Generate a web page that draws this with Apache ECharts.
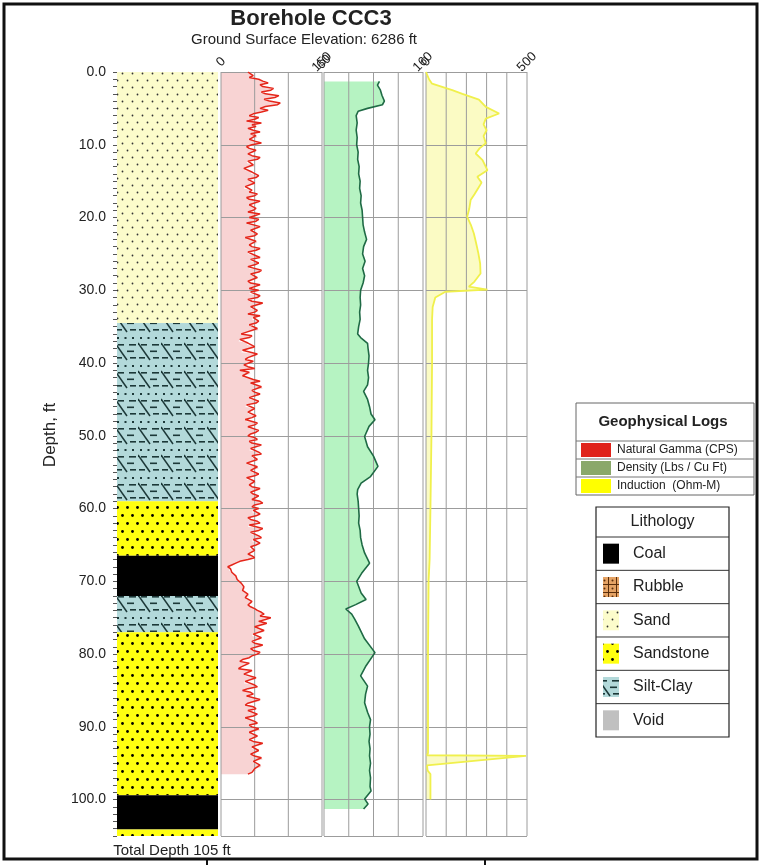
<!DOCTYPE html>
<html><head><meta charset="utf-8">
<script src="https://cdn.jsdelivr.net/npm/echarts@6/dist/echarts.min.js"></script>
<style>html,body{margin:0;padding:0;background:#fff}#c{width:762px;height:865px}</style>
</head><body><div id="c"></div>
<script>
// ---------------- data ----------------
const TITLE = 'Borehole CCC3';
const SUBTITLE = 'Ground Surface Elevation: 6286 ft';
const FOOT = 'Total Depth 105 ft';
const DEPTH_NAME = 'Depth, ft';
const depthMin = 0, depthMax = 105, depthLabelStep = 10, depthLabelMax = 100;

const layerTop    = [0, 34.5, 59, 66.5, 72, 77, 99.4, 104.1];
const layerBottom = [34.5, 59, 66.5, 72, 77, 99.4, 104.1, 105];
const layerType   = ['Sand','Silt-Clay','Sandstone','Coal','Silt-Clay','Sandstone','Coal','Sandstone'];

// Natural gamma (CPS), sampled every gammaStep ft from 0 ft
const gammaStep = 0.25;
const gamma = [
 40,44,48,42,56,62,70,58,62,78,74,60,66,86,80,64,72,88,84,66,
 58,70,60,48,42,56,50,38,60,46,52,40,48,58,44,52,54,42,50,60,
 46,38,42,52,50,40,46,58,54,40,38,48,50,34,36,46,44,56,52,40,
 42,50,48,36,34,46,42,54,50,38,42,58,56,42,44,52,48,40,58,50,
 42,56,52,38,40,58,56,44,44,54,50,36,38,52,54,42,46,58,52,40,
 40,52,58,44,44,56,50,40,42,60,56,44,46,54,52,40,44,58,50,42,
 56,44,42,58,54,40,46,62,60,44,44,54,50,40,58,48,46,56,52,42,
 44,54,56,38,30,46,42,28,26,40,38,50,48,32,30,54,52,40,36,48,
 46,34,40,50,28,42,44,32,34,48,58,44,46,60,62,46,50,58,56,42,
 44,56,52,38,36,50,48,40,40,52,46,36,38,54,50,40,42,56,52,44,
 40,50,54,42,46,60,58,44,42,56,60,46,46,54,52,38,40,54,56,44,
 46,56,50,38,38,50,52,42,46,58,56,44,48,56,54,46,58,62,50,46,
 56,48,46,58,52,40,44,54,58,42,40,62,56,44,44,56,60,48,46,58,
 52,44,42,50,48,40,46,50,40,28,22,16,10,14,12,16,18,22,22,24,
 26,30,30,34,36,32,34,40,42,36,38,46,46,40,44,50,54,60,64,58,
 74,66,56,68,66,50,52,64,62,48,46,60,58,46,50,62,60,44,48,58,
 54,46,42,32,28,42,40,30,26,46,44,34,36,52,50,36,34,50,54,40,
 32,44,48,38,40,58,56,40,36,48,52,40,42,54,48,36,38,50,54,42,
 46,56,58,42,44,54,52,42,48,62,60,46,46,56,54,44,50,60,62,48,
 48,58,60,50,52,46,40
];

// Density (Lbs / Cu Ft)
const densDepth = [1.3,1.8,2.5,3.2,4.0,4.5,5.0,5.4,6,7,8,9,10,11,12,13,14,15,16,17,18,19,20,21,22,23,24,25,26,27,28,29,30,31,32,33,34,35,36,36.5,37.3,38,39,40,41,42,43,43.9,45,46,47,47.8,48.7,50.1,51.5,52.8,54.2,55.6,56.5,57.4,58,59,60,61,62,63,64,65,66.1,67.5,68.9,70,71.6,72.5,73.2,73.8,74.5,75.2,76.1,77.9,79.8,81.6,83,84.4,85.5,86.7,88,89,90,91,92,93,94,95,96,97,98.2,98.8,99.9,100.6,101.3];
const densVal   = [116,114,117,118.5,121,119,104,94.5,92.5,93.5,92.5,93.5,93,94.5,94,95.5,95,96.5,96,97.5,97,98.5,99,99.5,101,103,100,99,101.5,99,101,99.5,97,96.5,97,96,96.5,95,94,97,104,104.5,105.5,105,104,105,104,100,104,106,107.5,111.5,105.5,101,104,110,114.5,107,97.5,94,93.5,94.5,95,95.5,95,96.5,97,98.5,101,106,98,93,97.5,102.5,92,82,88,91,94.5,101,111.5,102.5,97,104,102,101,104,107,106,106.5,105.5,106.5,106,107,106,107,106.5,107.5,101,104.5,100];

// Induction (Ohm-M)
const indDepth = [0,1,1.6,2.5,3.0,3.8,4.8,5.7,6.4,7.2,8.0,8.8,9.8,10.5,11.2,12.1,13.5,14.4,15.2,15.8,16.8,17.6,18.8,19.9,21,22.2,23.5,24.9,26.3,27.7,28.8,29.5,29.9,30.2,31,32.3,34,40,50,60,67,69.8,80,93.6,93.9,94.0,95.3,96.0,96.5,100];
const indVal   = [0,15,30,130,180,262,296,362,296,285,300,285,296,265,246,280,304,254,275,262,240,221,214,204,222,237,248,259,268,270,240,212,304,96,46,33,30,30,27,22,18,13,10,10,5,495,5,8,22,22];

const gammaTicks = [0, 50, 100, 150];
const densTicks  = [60, 85, 110, 135, 160];
const indTicks   = [0, 100, 200, 300, 400, 500];

const geoLegendNames  = ['Natural Gamma (CPS)', 'Density (Lbs / Cu Ft)', 'Induction  (Ohm-M)'];
const geoLegendColors = ['#e0231b', '#8aa86a', '#ffff00'];
const geoLegendTitle  = 'Geophysical Logs';
const lithLegendTitle = 'Lithology';
const lithLegend      = ['Coal', 'Rubble', 'Sand', 'Sandstone', 'Silt-Clay', 'Void'];

// ---------------- patterns ----------------
const FONT = '"Liberation Sans", Arial, sans-serif';
function tile(w, h, bg, draw) {
  const c = document.createElement('canvas'); c.width = w; c.height = h;
  const g = c.getContext('2d'); g.fillStyle = bg; g.fillRect(0, 0, w, h); draw(g);
  return { image: c, repeat: 'repeat' };
}
function dot(g, x, y, r) { g.beginPath(); g.arc(x, y, r, 0, Math.PI * 2); g.fill(); }
const patterns = {
  'Sand': tile(10, 14, '#fcfccb', g => { g.fillStyle = '#333'; dot(g, 2.5, 3.5, 0.9); dot(g, 7.5, 10.5, 0.9); }),
  'Sandstone': tile(10, 16, '#ffff10', g => { g.fillStyle = '#000'; dot(g, 2.5, 3.5, 1.4); dot(g, 7.5, 11.5, 1.4); }),
  'Silt-Clay': tile(23, 28, '#b3d9da', g => {
    g.fillStyle = '#1c3838';
    [2, 9.5, 17].forEach(x => g.fillRect(x, 1, 2, 2));
    g.fillRect(3, 8, 6, 1.6); g.fillRect(14, 8, 7, 1.6);
    g.fillRect(12, 14.5, 7, 1.6);
    g.fillRect(1, 21, 6, 1.6); g.fillRect(15, 21, 6, 1.6);
    g.strokeStyle = '#1c3838'; g.lineWidth = 1.5;
    g.beginPath(); g.moveTo(0, 7); g.lineTo(12, 24); g.stroke();
  }),
  'Coal': '#000000',
  'Rubble': tile(8, 8, '#e5a365', g => {
    g.fillStyle = '#5a2e0c'; g.fillRect(0, 0, 8, 1); g.fillRect(0, 0, 1, 8); dot(g, 4.5, 4.5, 1);
  }),
  'Void': '#c0c0c0'
};

// ---------------- build ----------------
const gammaDepth = gamma.map((v, i) => i * gammaStep);
const GRID_TOP = 72, GRID_H = 764;
const trackDefs = [
  { left: 221, width: 101, min: 0,  max: 150, lab: 50, ticks: gammaTicks, depths: gammaDepth, vals: gamma,
    fill: '#f8d3d3', line: '#e5261a', lw: 1.5 },
  { left: 324, width: 99,  min: 60, max: 160, lab: 20, ticks: densTicks, depths: densDepth, vals: densVal,
    fill: '#b6f3c2', line: '#1f6a45', lw: 1.6 },
  { left: 426, width: 101, min: 0,  max: 500, lab: 100, ticks: indTicks, depths: indDepth, vals: indVal,
    fill: '#fbfbc4', line: '#f0f04c', lw: 1.8 }
];

const grids = [{ left: 117, top: GRID_TOP, width: 101, height: GRID_H, outerBoundsMode: 'none' }];
const xAxes = [{ gridIndex: 0, type: 'value', min: 0, max: 1, show: false }];
const yAxes = [{
  gridIndex: 0, type: 'value', inverse: true, min: depthMin, max: depthMax, interval: 1,
  position: 'left', offset: 6,
  axisLine: { show: false },
  axisTick: { show: true, length: 4, lineStyle: { color: '#555' } },
  axisLabel: { margin: 5, fontSize: 14, color: '#222', fontFamily: FONT, showMinLabel: true,
    formatter: v => (v % depthLabelStep === 0 && v <= depthLabelMax) ? v.toFixed(1) : '' },
  splitLine: { show: false }
}];
const series = [{
  type: 'custom', xAxisIndex: 0, yAxisIndex: 0, silent: true, clip: false,
  data: layerTop.map((t, i) => [0, t, layerBottom[i], i]),
  encode: { x: 0, y: [1, 2] },
  renderItem(params, api) {
    const i = api.value(3);
    const p0 = api.coord([0, api.value(1)]);
    const p1 = api.coord([1, api.value(2)]);
    return { type: 'rect', shape: { x: p0[0], y: p0[1], width: p1[0] - p0[0], height: p1[1] - p0[1] },
      style: { fill: patterns[layerType[i]] } };
  }
}];

trackDefs.forEach((t, k) => {
  const gi = k + 1;
  grids.push({ left: t.left, top: GRID_TOP, width: t.width, height: GRID_H, outerBoundsMode: 'none' });
  xAxes.push({
    gridIndex: gi, type: 'value', position: 'top', min: t.min, max: t.max, interval: t.lab,
    axisLine: { show: false }, axisTick: { show: false }, splitLine: { show: false },
    axisLabel: { rotate: 45, align: 'center', verticalAlign: 'middle', margin: 10, fontSize: 13,
      color: '#222', fontFamily: FONT, showMinLabel: true, showMaxLabel: true,
      formatter: v => (v === t.min || v === t.max) ? String(v) : '' }
  });
  yAxes.push({
    gridIndex: gi, type: 'value', inverse: true, min: depthMin, max: depthMax, interval: depthLabelStep, z: 3,
    axisLine: { show: false }, axisTick: { show: false }, axisLabel: { show: false },
    splitLine: { show: true, lineStyle: { color: '#9c9c9c', width: 1 } }
  });
  // area fill between track minimum and curve
  series.push({
    type: 'custom', xAxisIndex: gi, yAxisIndex: gi, z: 1, silent: true, clip: true,
    data: [[t.min, t.depths[0]]], encode: { x: 0, y: 1 },
    renderItem(params, api) {
      const pts = [api.coord([t.min, t.depths[0]])];
      for (let j = 0; j < t.vals.length; j++) pts.push(api.coord([t.vals[j], t.depths[j]]));
      pts.push(api.coord([t.min, t.depths[t.depths.length - 1]]));
      return { type: 'polygon', shape: { points: pts }, style: { fill: t.fill } };
    }
  });
  // vertical grid lines
  series.push({
    type: 'custom', xAxisIndex: gi, yAxisIndex: gi, z: 3, silent: true, clip: false,
    data: t.ticks.map(v => [v, depthMin]), encode: { x: 0, y: 1 },
    renderItem(params, api) {
      const a = api.coord([api.value(0), depthMin]);
      const b = api.coord([api.value(0), depthMax]);
      return { type: 'line', shape: { x1: a[0], y1: a[1], x2: b[0], y2: b[1] },
        style: { stroke: '#9c9c9c', lineWidth: 1 } };
    }
  });
  // curve
  series.push({
    type: 'line', xAxisIndex: gi, yAxisIndex: gi, z: 5, silent: true, symbol: 'none', showSymbol: false,
    data: t.vals.map((v, j) => [v, t.depths[j]]),
    lineStyle: { color: t.line, width: t.lw }
  });
});

// ---------------- graphics (titles, legends, frame) ----------------
const graphic = [];
const txt = (x, y, text, font, align, extra) => Object.assign({ type: 'text', x, y, silent: true,
  style: { text, font, fill: '#222', align: align || 'center', verticalAlign: 'middle' } }, extra || {});
graphic.push({ type: 'rect', silent: true, shape: { x: 4, y: 4, width: 753, height: 855 },
  style: { fill: 'none', stroke: '#111', lineWidth: 3 } });
graphic.push({ type: 'line', silent: true, shape: { x1: 207, y1: 860, x2: 207, y2: 865 }, style: { stroke: '#111', lineWidth: 2 } });
graphic.push({ type: 'line', silent: true, shape: { x1: 485, y1: 860, x2: 485, y2: 865 }, style: { stroke: '#111', lineWidth: 2 } });
graphic.push(txt(311, 19, TITLE, 'bold 22px ' + FONT));
graphic.push(txt(304, 40, SUBTITLE, '15px ' + FONT));
graphic.push(txt(172, 851, FOOT, '15px ' + FONT));
graphic.push(txt(50, 435, DEPTH_NAME, '17px ' + FONT, 'center', { rotation: Math.PI / 2 }));

// geophysical legend
const gx = 576, gy = 403, gw = 178, gHead = 38, gRow = 18;
graphic.push({ type: 'rect', silent: true, shape: { x: gx, y: gy, width: gw, height: gHead + gRow * 3 },
  style: { fill: '#fff', stroke: '#666', lineWidth: 1 } });
graphic.push(txt(gx + gw / 2 - 2, gy + 19, geoLegendTitle, 'bold 15px ' + FONT));
geoLegendNames.forEach((n, i) => {
  const ry = gy + gHead + i * gRow;
  graphic.push({ type: 'line', silent: true, shape: { x1: gx, y1: ry, x2: gx + gw, y2: ry }, style: { stroke: '#777', lineWidth: 1 } });
  graphic.push({ type: 'rect', silent: true, shape: { x: gx + 5, y: ry + 2, width: 30, height: 14 }, style: { fill: geoLegendColors[i] } });
  graphic.push(txt(gx + 41, ry + 9, n, '12px ' + FONT, 'left'));
});

// lithology legend
const lx = 596, ly = 507, lw = 133, lHead = 30, lRow = 33.33;
graphic.push({ type: 'rect', silent: true, shape: { x: lx, y: ly, width: lw, height: lHead + lRow * 6 },
  style: { fill: '#fff', stroke: '#222', lineWidth: 1.2 } });
graphic.push(txt(lx + lw / 2, ly + 15, lithLegendTitle, '16px ' + FONT));
lithLegend.forEach((n, i) => {
  const ry = ly + lHead + i * lRow;
  graphic.push({ type: 'line', silent: true, shape: { x1: lx, y1: ry, x2: lx + lw, y2: ry }, style: { stroke: '#333', lineWidth: 1 } });
  graphic.push({ type: 'rect', silent: true, shape: { x: lx + 7, y: ry + lRow / 2 - 10, width: 16, height: 20 }, style: { fill: patterns[n] } });
  graphic.push(txt(lx + 37, ry + lRow / 2, n, '16px ' + FONT, 'left'));
});

const chart = echarts.init(document.getElementById('c'), null, { renderer: 'canvas' });
chart.setOption({
  animation: false,
  backgroundColor: '#fff',
  grid: grids, xAxis: xAxes, yAxis: yAxes, series, graphic
});
</script></body></html>
